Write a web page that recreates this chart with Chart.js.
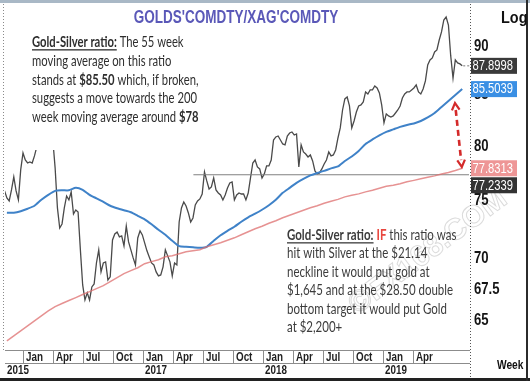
<!DOCTYPE html>
<html><head><meta charset="utf-8">
<script src="https://cdn.jsdelivr.net/npm/chart.js@4.4.1/dist/chart.umd.min.js"></script>
<style>html,body{margin:0;padding:0;background:#fff;}#wrap{width:530px;height:383px;}</style>
</head><body><div id="wrap"><canvas id="c" width="530" height="383"></canvas></div>
<script>
// ---- DATA (weekly Gold/Silver ratio, from 2015-11-06) ----
const startDate = '2015-11-06';
const ratio = [
75.76,75.14,74.87,75.85,77.04,75.76,74.96,77.68,79.26,78.60,
78.32,78.42,78.32,78.98,79.83,80.68,81.55,82.33,82.92,83.11,
81.94,80.49,77.86,74.25,72.50,72.85,74.25,75.31,74.96,75.67,
73.72,74.07,73.89,70.64,67.76,66.56,67.12,66.56,67.60,67.84,
69.55,70.64,68.82,69.55,69.64,68.16,68.41,71.48,71.99,72.16,
71.74,71.82,70.98,72.67,71.31,70.64,69.97,69.39,71.65,72.25,
71.91,71.23,70.56,70.05,69.55,69.39,68.82,68.49,68.57,69.23,
70.64,70.14,69.64,68.49,69.55,69.39,73.02,74.25,74.78,74.42,
73.81,73.02,73.37,74.51,74.87,75.05,75.49,77.50,76.67,75.94,
76.12,76.94,75.85,75.58,75.40,74.96,75.40,76.03,76.49,76.58,
74.96,75.40,75.58,75.49,75.49,74.96,75.58,76.94,78.32,78.60,
77.96,77.77,76.94,77.31,78.05,78.05,78.60,80.49,80.78,80.87,
80.49,80.11,80.02,80.87,81.16,81.26,80.97,81.07,77.96,80.02,
79.35,79.16,78.88,79.07,78.51,77.59,77.31,77.40,77.77,78.23,
78.60,79.35,78.98,79.07,79.54,80.68,81.65,83.41,84.51,84.71,
83.81,81.65,82.33,83.21,83.81,83.91,84.21,85.22,85.01,85.42,
85.42,85.83,85.62,85.11,83.91,82.14,83.02,82.82,82.72,82.82,
83.11,83.41,83.81,84.61,85.01,85.22,85.22,85.42,85.62,85.93,
85.22,85.01,85.52,86.34,87.99,88.52,88.73,89.36,89.57,90.64,
91.51,92.82,93.15,92.27,88.94,86.64,88.52,88.20,88.10,87.8998];
// moving averages sampled every 3 weeks, starting at week 1
const maFirstWeek = 1, maStepWeeks = 3;
const ma55 = [
73.83,73.83,73.96,74.18,74.44,74.97,75.41,75.77,75.82,75.82,
76.04,75.86,75.41,75.10,74.79,74.44,74.22,74.04,73.87,73.56,
73.25,72.82,72.35,71.92,71.41,70.95,70.90,70.86,70.82,70.90,
71.41,71.88,72.26,72.61,73.04,73.43,73.74,74.09,74.49,74.97,
75.59,76.04,76.50,76.86,77.17,77.40,77.59,77.82,78.00,78.51,
78.93,79.45,80.11,80.54,80.93,81.27,81.51,81.75,81.94,82.09,
82.33,82.67,83.11,83.71,84.31,84.91,85.5039];
const ma200 = [
63.40,63.78,64.16,64.54,64.93,65.32,65.70,66.04,66.28,66.52,
66.75,66.99,67.22,67.46,67.70,68.03,68.35,68.68,68.92,69.16,
69.49,69.66,69.82,70.07,70.15,70.32,70.48,70.57,70.65,70.90,
71.07,71.24,71.45,71.66,71.92,72.18,72.44,72.65,72.91,73.13,
73.39,73.61,73.83,74.04,74.26,74.44,74.66,74.84,75.01,75.23,
75.37,75.50,75.68,75.82,76.00,76.18,76.27,76.41,76.59,76.72,
76.86,77.00,77.13,77.31,77.45,77.63,77.8313];
const necklineValue = 77.2339;
const necklineStart = 2017.42;   // decimal year
const yTickValues = [65, 67.5, 70, 75, 80, 85, 90];
const monthTickPos = [2016,2016.25,2016.5,2016.75,2017,2017.25,2017.5,2017.75,2018,2018.25,2018.5,2018.75,2019,2019.25];
const monthTickLabels = ['Jan','Apr','Jul','Oct','Jan','Apr','Jul','Oct','Jan','Apr','Jul','Oct','Jan','Apr'];
const yearLabelPos = [2015.85, 2017, 2018, 2019];
const yearLabels = ['2015','2017','2018','2019'];
const xMin = 2015.85, xMax = 2019.7167;
const yMin = 62.72, yMax = 94.6;
const arrowDates = [2019.60, 2019.657];
const arrowValues = [84.1, 77.95];
const titleText = "GOLDS'COMDTY/XAG'COMDTY";
const note1 = [
 [{t:'Gold-Silver ratio:',b:1,u:1},{t:' The 55 week'}],
 [{t:'moving average on this ratio'}],
 [{t:'stands at '},{t:'$85.50',b:1},{t:' which, if broken,'}],
 [{t:'suggests a move towards the 200'}],
 [{t:'week moving average around '},{t:'$78',b:1}]
];
const note2 = [
 [{t:'Gold-Silver ratio:',b:1,u:1},{t:' '},{t:'IF',b:1,c:'#e8463e'},{t:' this ratio was'}],
 [{t:'hit with Silver at the $21.14'}],
 [{t:'neckline it would put gold at'}],
 [{t:'$1,645 and at the $28.50 double'}],
 [{t:'bottom target it would put Gold'}],
 [{t:'at $2,200+'}]
];

// ---- helpers ----
function decYear(ms){
  const y = new Date(ms).getUTCFullYear();
  const a = Date.UTC(y,0,1), b = Date.UTC(y+1,0,1);
  return y + (ms - a)/(b - a);
}
const t0 = Date.parse(startDate + 'T00:00:00Z');
const WEEK = 7*86400000;
const ratioPts = ratio.map((v,i)=>({x:decYear(t0+i*WEEK), y:v}));
const ma55Pts = ma55.map((v,k)=>({x:decYear(t0+(maFirstWeek+k*maStepWeeks)*WEEK), y:v}));
const ma200Pts = ma200.map((v,k)=>({x:decYear(t0+(maFirstWeek+k*maStepWeeks)*WEEK), y:v}));
const neckPts = [{x:necklineStart,y:necklineValue},{x:xMax,y:necklineValue}];

const SANS = 'Liberation Sans, Arial, sans-serif';
function txt(ctx, s, x, y, font, color, o){
  o = o || {};
  ctx.save();
  ctx.font = font; ctx.fillStyle = color;
  ctx.textAlign = o.align || 'left';
  ctx.textBaseline = o.base || 'middle';
  ctx.translate(x, y); ctx.scale(o.sx || 1, o.sy || 1);
  ctx.fillText(s, 0, 0);
  ctx.restore();
}
function rich(ctx, x, y, segs, size, sx, baseColor){
  ctx.save(); ctx.translate(x, y); ctx.scale(sx, 1);
  ctx.textBaseline = 'alphabetic'; ctx.textAlign = 'left';
  let cx = 0;
  for (const s of segs){
    ctx.font = (s.b ? 'bold ' : '') + size + 'px Lato, sans-serif';
    ctx.fillStyle = s.c || baseColor;
    ctx.fillText(s.t, cx, 0);
    const w = ctx.measureText(s.t).width;
    if (s.u) ctx.fillRect(cx, 2.2, w, 1.3);
    cx += w;
  }
  ctx.restore();
}

const deco = {
  id:'deco',
  beforeDraw(chart){
    const c = chart.ctx; c.save(); c.fillStyle = '#fff'; c.fillRect(0,0,chart.width,chart.height); c.restore();
  },
  afterDatasetsDraw(chart){
    const c = chart.ctx, xs = chart.scales.x, ys = chart.scales.y, ca = chart.chartArea;
    // watermark
    c.save();
    c.translate(428, 252); c.rotate(-36.6*Math.PI/180);
    c.font = 'bold 30px ' + SANS; c.textAlign='center'; c.textBaseline='middle';
    c.strokeStyle = 'rgba(190,190,190,0.55)'; c.lineWidth = 1;
    c.strokeText('\u00A9FX168.COM', 0, 0);
    c.restore();
    // white note box covering chart
    c.save(); c.fillStyle = '#fff'; c.fillRect(ca.left, ca.top, 227, 146); c.restore();
    // notes
    c.save();
    c.font = '15px Lato, sans-serif';
    const sx1 = 165 / c.measureText('suggests a move towards the 200').width;
    const sx2 = 160 / c.measureText('bottom target it would put Gold').width;
    c.restore();
    note1.forEach((ln,i)=>rich(c, 32, 47 + i*18.8, ln, 15, sx1, '#2e2e2e'));
    note2.forEach((ln,i)=>rich(c, 287, 240 + i*18.4, ln, 15, sx2, '#3c3c3c'));
    // title
    txt(c, titleText, 236, 18, 'bold 15px ' + SANS, '#5a58b8', {align:'center', sx:0.9, sy:1.25});
    // arrow
    const ax1 = xs.getPixelForValue(arrowDates[0]), ay1 = ys.getPixelForValue(arrowValues[0]);
    const ax2 = xs.getPixelForValue(arrowDates[1]), ay2 = ys.getPixelForValue(arrowValues[1]);
    const ang = Math.atan2(ay2-ay1, ax2-ax1);
    c.save();
    c.strokeStyle = '#d42a2a'; c.fillStyle = '#d42a2a'; c.lineWidth = 2.6;
    c.setLineDash([6,4]);
    c.beginPath();
    c.moveTo(ax1 + 7*Math.cos(ang), ay1 + 7*Math.sin(ang));
    c.lineTo(ax2 - 7*Math.cos(ang), ay2 - 7*Math.sin(ang));
    c.stroke();
    c.setLineDash([]); c.lineWidth = 2.2;
    function head(x,y,a){
      c.beginPath();
      c.moveTo(x - 8*Math.cos(a-0.5), y - 8*Math.sin(a-0.5));
      c.lineTo(x, y);
      c.lineTo(x - 8*Math.cos(a+0.5), y - 8*Math.sin(a+0.5));
      c.stroke();
    }
    head(ax1, ay1, ang+Math.PI); head(ax2, ay2, ang);
    c.restore();
    // leader from last ratio point
    const lp = ratioPts[ratioPts.length-1];
    const lx = xs.getPixelForValue(lp.x), ly = ys.getPixelForValue(lp.y);
    c.save(); c.strokeStyle='#777'; c.lineWidth=1; c.setLineDash([2,2]);
    c.beginPath(); c.moveTo(lx+1, ly); c.lineTo(ca.right+2, ly); c.stroke(); c.restore();
  },
  afterDraw(chart){
    const c = chart.ctx, xs = chart.scales.x, ys = chart.scales.y, ca = chart.chartArea;
    const W = chart.width, H = chart.height;
    c.save();
    // frame
    c.fillStyle = '#a9b8c6'; c.fillRect(0,0,W,3);
    c.fillStyle = '#222'; c.fillRect(0,378,W,3);
    c.fillStyle = '#2b2b2b'; c.fillRect(526,0,2,381);
    // left dotted axis
    c.strokeStyle = '#8a8a8a'; c.lineWidth = 1; c.setLineDash([1,2]);
    c.beginPath(); c.moveTo(3.5, ca.top); c.lineTo(3.5, ca.bottom); c.stroke();
    // right dotted axis
    c.strokeStyle = '#555';
    c.beginPath(); c.moveTo(ca.right+1.5, ca.top); c.lineTo(ca.right+1.5, 378); c.stroke();
    c.setLineDash([]);
    // axis band
    c.strokeStyle = '#8c8c8c'; c.lineWidth = 1;
    c.beginPath();
    c.moveTo(ca.left, 350.5); c.lineTo(ca.right+1, 350.5);
    c.moveTo(ca.left, 363.5); c.lineTo(ca.right+1, 363.5);
    monthTickPos.forEach(p=>{ const x = Math.round(xs.getPixelForValue(p))+0.5; c.moveTo(x,350.5); c.lineTo(x,363.5); });
    c.stroke();
    c.restore();
    monthTickPos.forEach((p,i)=>{
      txt(c, monthTickLabels[i], xs.getPixelForValue(p)+3, 357.5, 'bold 12px ' + SANS, '#1e1e1e', {sx:0.82});
    });
    yearLabelPos.forEach((p,i)=>{
      const x = Math.max(xs.getPixelForValue(p)+2, 7);
      txt(c, yearLabels[i], x, 371, 'bold 12px ' + SANS, '#1e1e1e', {sx:0.82});
    });
    // y tick labels
    ys.ticks.forEach(t=>{
      const y = ys.getPixelForValue(t.value);
      txt(c, String(t.value), 474, y+1, 'bold 16px ' + SANS, '#151515', {sx:0.82});
    });
    // badges
    const badges = [
      {v: ratio[ratio.length-1], bg:'#3a3a3a'},
      {v: ma55[ma55.length-1], bg:'#3a8fe4'},
      {v: ma200[ma200.length-1], bg:'#ee9696'},
      {v: necklineValue, bg:'#333333'}
    ].map(b=>({...b, y: ys.getPixelForValue(b.v)})).sort((a,b)=>a.y-b.y);
    let prev = -100;
    badges.forEach(b=>{
      let y = b.y; if (y < prev + 17) y = prev + 17; prev = y;
      c.save(); c.fillStyle = b.bg; c.fillRect(471, y-8, 46, 16); c.restore();
      txt(c, b.v.toFixed(4), 472.5, y+0.5, '14px ' + SANS, '#ffffff', {sx:0.8});
    });
    txt(c, 'Log', 501, 18, 'bold 17px ' + SANS, '#111', {sx:0.85});
    txt(c, 'Week', 497, 366, 'bold 12px ' + SANS, '#111', {sx:0.85});
  }
};

new Chart(document.getElementById('c').getContext('2d'), {
  type:'line',
  data:{datasets:[
    {data:ma200Pts, borderColor:'rgba(222,110,110,0.75)', borderWidth:1.5, pointRadius:0, tension:0},
    {data:ma55Pts, borderColor:'#3f82c8', borderWidth:2, pointRadius:0, tension:0.2},
    {data:neckPts, borderColor:'#808080', borderWidth:1, pointRadius:0},
    {data:ratioPts, borderColor:'#4a4a4a', borderWidth:1.3, pointRadius:0, tension:0}
  ]},
  options:{
    responsive:false, animation:false, devicePixelRatio:1,
    layout:{padding:{left:5, top:4, bottom:33, right:0}},
    plugins:{legend:{display:false}, tooltip:{enabled:false}},
    scales:{
      x:{type:'linear', min:xMin, max:xMax, display:false},
      y:{type:'logarithmic', position:'right', min:yMin, max:yMax,
         afterFit(s){ s.width = 61; },
         afterBuildTicks(s){ s.ticks = yTickValues.map(v=>({value:v})); },
         ticks:{display:false},
         grid:{display:false, drawTicks:false},
         border:{display:false}}
    }
  },
  plugins:[deco]
});
</script></body></html>
